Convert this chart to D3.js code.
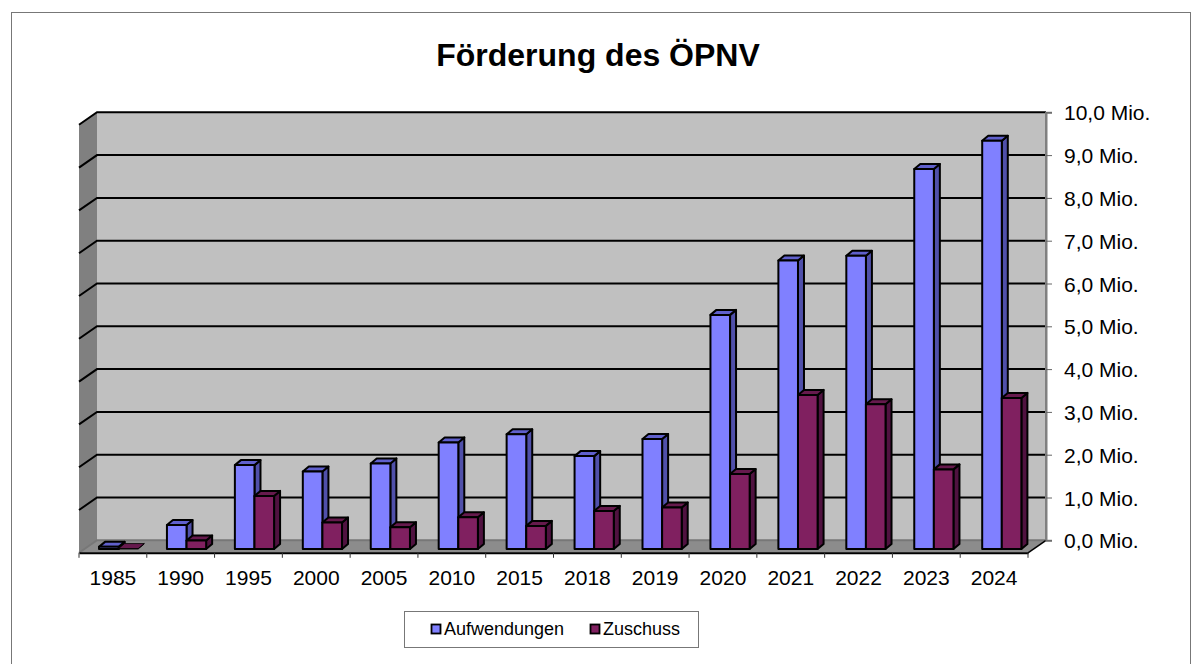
<!DOCTYPE html>
<html><head><meta charset="utf-8">
<script src="https://cdn.jsdelivr.net/npm/d3@7"></script>
<style>html,body{margin:0;padding:0;background:#fff}svg{display:block}text{font-family:"Liberation Sans",Arial,sans-serif;fill:#000}</style>
</head><body><svg id="c" width="1203" height="664"></svg>
<script>
const categories=["1985","1990","1995","2000","2005","2010","2015","2018","2019","2020","2021","2022","2023","2024"];
const aufwendungen=[0.05,0.56,1.96,1.81,2.0,2.49,2.68,2.17,2.57,5.47,6.74,6.85,8.88,9.54];
const zuschuss=[0.01,0.2,1.24,0.62,0.51,0.74,0.54,0.89,0.97,1.75,3.6,3.38,1.86,3.53];
const tickValues=[0,1,2,3,4,5,6,7,8,9,10];
const tickFormat=v=>v.toFixed(1).replace(".",",")+" Mio.";
const seriesNames=["Aufwendungen","Zuschuss"];
const colors=[{f:"#8080ff",s:"#5050aa",t:"#6060cc"},{f:"#802060",s:"#501240",t:"#661a4d"}];
const svg=d3.select("#c");
const D={x:18,y:12.5},d={x:6,y:5};
const x=d3.scaleBand().domain(categories).range([79,1028]);
const barX=d3.scalePoint().domain(categories).range([99,982.2]);
const y=d3.scaleLinear().domain([0,10]).range([540.3,112.3]);
const yb=v=>y(v)+8.7;
const pts=a=>a.map(p=>p.join(",")).join(" ");
svg.append("rect").attr("x",11.5).attr("y",12.5).attr("width",1179).attr("height",670).attr("fill","#fff").attr("stroke","#777");
svg.append("text").attr("x",598).attr("y",66).attr("text-anchor","middle").attr("font-size",32).attr("font-weight","bold").style("font-family",'Arial,"Liberation Sans"').text("Förderung des ÖPNV");
const R=x.range();
svg.append("rect").attr("x",R[0]+D.x).attr("y",y(10)).attr("width",R[1]-R[0]).attr("height",y(0)-y(10)).attr("fill","#c0c0c0");
svg.append("polygon").attr("points",pts([[R[0],y(10)+D.y],[R[0]+D.x,y(10)],[R[0]+D.x,y(0)],[R[0],y(0)+D.y]])).attr("fill","#808080");
svg.append("polygon").attr("points",pts([[R[0],y(0)+D.y],[R[0]+D.x,y(0)],[R[1]+D.x,y(0)],[R[1],y(0)+D.y]])).attr("fill","#8c8c8c");
svg.append("g").selectAll("polyline").data(tickValues).join("polyline")
 .attr("points",v=>pts([[R[0],y(v)+D.y],[R[0]+D.x,y(v)],[R[1]+D.x,y(v)]]))
 .attr("fill","none").attr("stroke",v=>v===0?"#777":"#000").attr("stroke-width",2);
svg.append("line").attr("x1",R[1]+D.x).attr("x2",R[1]+D.x).attr("y1",y(10)).attr("y2",y(0)).attr("stroke","#808080").attr("stroke-width",2);
svg.append("line").attr("x1",R[1]).attr("x2",R[1]+D.x).attr("y1",y(0)+D.y).attr("y2",y(0)).attr("stroke","#000").attr("stroke-width",1.5);
const yAxis=svg.append("g").attr("transform",`translate(${R[1]+D.x},0)`).call(d3.axisRight(y).tickValues(tickValues).tickFormat(tickFormat).tickSize(6).tickPadding(12));
yAxis.select(".domain").attr("stroke","#808080").attr("stroke-width",2);
yAxis.selectAll("line").attr("stroke","#666");
yAxis.selectAll("text").attr("font-size",21).attr("dy","0.36em").style("font-family",'"Liberation Sans"').attr("fill","#000");
const xAxis=svg.append("g").attr("transform",`translate(0,${y(0)+D.y})`).call(d3.axisBottom(x).tickSize(0).tickPadding(17));
xAxis.select(".domain").attr("stroke","#000").attr("stroke-width",2);
xAxis.selectAll("text").attr("font-size",21).style("font-family",'"Liberation Sans"').attr("fill","#000");
svg.append("g").selectAll("line").data(categories.concat(["end"])).join("line")
 .attr("x1",c=>c==="end"?R[1]:x(c)).attr("x2",c=>c==="end"?R[1]:x(c)).attr("y1",y(0)+D.y).attr("y2",y(0)+D.y+5).attr("stroke","#333");
const bw=19.6,fx=(i,s)=>barX(categories[i])+s*bw;
function bar(g,i,s,v){
 const L=fx(i,s),Rr=L+bw,T=yb(v),B=yb(0),c=colors[s];
 const flat=v<0.03;
 const st={stroke:"#000","stroke-width":flat?0.8:2,"stroke-linejoin":"round"};
 const add=(p,f)=>{const e=g.append("polygon").attr("points",pts(p)).attr("fill",f);Object.entries(st).forEach(([k,w])=>e.attr(k,w));};
 add([[Rr,T],[Rr+d.x,T-d.y],[Rr+d.x,B-d.y],[Rr,B]],c.s);
 add([[L,T],[L+d.x,T-d.y],[Rr+d.x,T-d.y],[Rr,T]],c.t);
 add([[L,T],[Rr,T],[Rr,B],[L,B]],c.f);
}
const g=svg.append("g");
categories.forEach((c,i)=>{bar(g,i,0,aufwendungen[i]);bar(g,i,1,zuschuss[i]);});
const lg=svg.append("g");
lg.append("rect").attr("x",404.5).attr("y",611.5).attr("width",294).attr("height",36).attr("fill","#fff").attr("stroke","#777");
const lx=[431,590];
seriesNames.forEach((n,i)=>{
 lg.append("rect").attr("x",lx[i]+0.5).attr("y",624.5).attr("width",9).attr("height",9).attr("fill",colors[i].f).attr("stroke","#000").attr("stroke-width",1.8);
 lg.append("text").attr("x",lx[i]+13).attr("y",635).attr("font-size",18).text(n);
});
</script></body></html>
